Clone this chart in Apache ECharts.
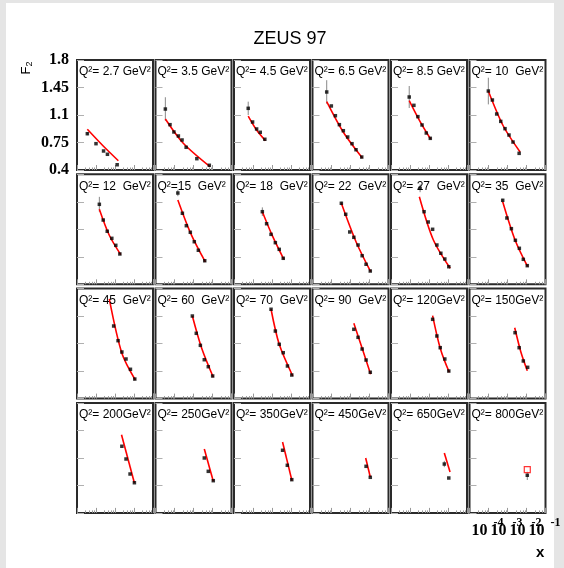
<!DOCTYPE html>
<html><head><meta charset="utf-8">
<script src="https://cdn.jsdelivr.net/npm/echarts@6/dist/echarts.min.js"></script>
<style>
html,body{margin:0;padding:0;background:#e5e5e5;width:564px;height:568px;overflow:hidden}
#bg{position:absolute;left:6px;top:3px;width:548px;height:565px;background:#fff}
#chart{position:absolute;left:0;top:0;width:564px;height:568px}
</style></head>
<body><div id="bg"></div><div id="chart"></div>
<script>
// ---- data ----
const PANEL_LABELS = ['Q²= 2.7 GeV²','Q²= 3.5 GeV²','Q²= 4.5 GeV²','Q²= 6.5 GeV²','Q²= 8.5 GeV²','Q²= 10  GeV²',
  'Q²= 12  GeV²','Q²=15  GeV²','Q²= 18  GeV²','Q²= 22  GeV²','Q²= 27  GeV²','Q²= 35  GeV²',
  'Q²= 45  GeV²','Q²= 60  GeV²','Q²= 70  GeV²','Q²= 90  GeV²','Q²= 120GeV²','Q²= 150GeV²',
  'Q²= 200GeV²','Q²= 250GeV²','Q²= 350GeV²','Q²= 450GeV²','Q²= 650GeV²','Q²= 800GeV²'];

const PTS_X = [
  [3.5e-5, 1.0e-4, 2.5e-4, 4.0e-4, 1.3e-3],
  [3.3e-5, 5.8e-5, 9.3e-5, 1.6e-4, 2.5e-4, 4.1e-4, 1.5e-3, 6.8e-3],
  [5.6e-5, 9.5e-5, 1.55e-4, 2.4e-4, 4.2e-4],
  [5.6e-5, 9.8e-5, 1.6e-4, 2.6e-4, 4.2e-4, 7.1e-4, 1.2e-3, 1.95e-3, 3.9e-3],
  [9.1e-5, 1.6e-4, 2.6e-4, 4.3e-4, 7.2e-4, 1.17e-3],
  [9.8e-5, 1.6e-4, 2.7e-4, 4.4e-4, 7.4e-4, 1.2e-3, 1.95e-3, 4.1e-3],
  [1.5e-4, 2.4e-4, 3.9e-4, 6.8e-4, 1.1e-3, 1.8e-3],
  [1.5e-4, 2.6e-4, 4.2e-4, 6.8e-4, 1.1e-3, 1.8e-3, 3.9e-3],
  [3.1e-4, 5.2e-4, 8.9e-4, 1.5e-3, 2.4e-3, 3.9e-3],
  [3.3e-4, 5.6e-4, 9.1e-4, 1.5e-3, 2.5e-3, 4.1e-3, 6.6e-3, 1.1e-2],
  [3.4e-4, 5.5e-4, 9.1e-4, 1.55e-3, 2.6e-3, 4.2e-3, 6.8e-3, 1.1e-2],
  [5.6e-4, 9.3e-4, 1.6e-3, 2.6e-3, 4.2e-3, 6.8e-3, 1.1e-2],
  [8.5e-4, 1.45e-3, 2.3e-3, 3.8e-3, 6.5e-3, 1.1e-2],
  [8.7e-4, 1.4e-3, 2.3e-3, 3.7e-3, 6.0e-3, 1.02e-2],
  [8.9e-4, 1.5e-3, 2.4e-3, 3.9e-3, 6.5e-3, 1.1e-2],
  [1.5e-3, 2.5e-3, 4.1e-3, 6.6e-3, 1.1e-2],
  [1.55e-3, 2.6e-3, 3.9e-3, 6.8e-3, 1.1e-2],
  [2.5e-3, 4.1e-3, 6.8e-3, 1.15e-2],
  [2.3e-3, 3.8e-3, 6.2e-3, 1.05e-2],
  [3.7e-3, 6.0e-3, 1.1e-2],
  [3.6e-3, 6.4e-3, 1.1e-2],
  [6.6e-3, 1.1e-2],
  [6.4e-3, 1.1e-2],
  [1.1e-2]
];
const PTS_F2 = [
  [0.862, 0.735, 0.642, 0.600, 0.467],
  [1.176, 0.977, 0.884, 0.833, 0.782, 0.689, 0.544, 0.460],
  [1.185, 1.011, 0.922, 0.880, 0.791],
  [1.393, 1.215, 1.091, 0.977, 0.900, 0.820, 0.735, 0.658, 0.565],
  [1.329, 1.223, 1.079, 0.973, 0.871, 0.803],
  [1.405, 1.291, 1.113, 1.019, 0.926, 0.845, 0.756, 0.612],
  [1.418, 1.218, 1.075, 0.985, 0.896, 0.786],
  [1.562, 1.304, 1.146, 1.062, 0.942, 0.833, 0.700],
  [1.324, 1.171, 1.036, 0.930, 0.845, 0.731],
  [1.431, 1.291, 1.066, 0.998, 0.900, 0.764, 0.655, 0.569],
  [1.622, 1.324, 1.193, 1.100, 0.900, 0.795, 0.722, 0.624],
  [1.469, 1.244, 1.108, 0.960, 0.858, 0.718, 0.637],
  [1.324, 1.137, 0.993, 0.904, 0.773, 0.649],
  [1.451, 1.231, 1.078, 0.895, 0.806, 0.688],
  [1.537, 1.260, 1.091, 0.984, 0.815, 0.700],
  [1.282, 1.180, 1.031, 0.891, 0.735],
  [1.409, 1.197, 1.048, 0.904, 0.751],
  [1.239, 1.048, 0.879, 0.798],
  [1.248, 1.086, 0.895, 0.784],
  [1.099, 0.929, 0.810],
  [1.197, 1.006, 0.823],
  [0.993, 0.853],
  [1.022, 0.844],
  [0.879]
];
// error on the first (lowest-x) point of each panel
const ERR_FIRST = [0.02, 0.15, 0.085, 0.15, 0.14, 0.17, 0.095, 0.04, 0.055, 0.02, 0.05, 0.02,
  0, 0, 0, 0, 0, 0, 0, 0, 0, 0, 0.04, 0.06];

const FIT_X = [
  [3.5e-5, 2.4e-4, 1.5e-3],
  [3.3e-5, 2.9e-4, 7.4e-3],
  [5.6e-5, 1.55e-4, 4.5e-4],
  [5.6e-5, 4.2e-4, 4.2e-3],
  [9.1e-5, 3.4e-4, 1.23e-3],
  [9.8e-5, 6.0e-4, 4.6e-3],
  [1.5e-4, 5.0e-4, 2.0e-3],
  [1.5e-4, 7.1e-4, 4.2e-3],
  [3.1e-4, 1.1e-3, 4.2e-3],
  [3.3e-4, 1.95e-3, 1.15e-2],
  [3.1e-4, 1.7e-3, 1.3e-2],
  [5.6e-4, 2.5e-3, 1.15e-2],
  [5.0e-4, 2.3e-3, 1.17e-2],
  [8.7e-4, 2.7e-3, 1.1e-2],
  [8.9e-4, 2.4e-3, 1.23e-2],
  [1.5e-3, 4.1e-3, 1.15e-2],
  [1.55e-3, 3.9e-3, 1.17e-2],
  [2.4e-3, 5.1e-3, 1.1e-2],
  [2.2e-3, 1.05e-2],
  [3.7e-3, 1.1e-2],
  [3.6e-3, 1.12e-2],
  [6.3e-3, 1.1e-2],
  [6.4e-3, 1.28e-2],
  []
];
const FIT_F2 = [
  [0.918, 0.705, 0.518],
  [1.049, 0.740, 0.442],
  [1.087, 0.909, 0.773],
  [1.269, 0.880, 0.553],
  [1.282, 1.015, 0.791],
  [1.405, 0.960, 0.629],
  [1.355, 1.024, 0.777],
  [1.473, 1.049, 0.684],
  [1.324, 1.006, 0.718],
  [1.431, 0.942, 0.560],
  [1.515, 0.964, 0.604],
  [1.451, 0.964, 0.624],
  [1.668, 0.977, 0.637],
  [1.451, 1.040, 0.671],
  [1.537, 1.091, 0.688],
  [1.358, 1.040, 0.709],
  [1.455, 1.040, 0.735],
  [1.302, 0.990, 0.755],
  [1.395, 0.781],
  [1.213, 0.802],
  [1.302, 0.810],
  [1.099, 0.857],
  [1.162, 0.921],
  []
];
// open red square in the Q2=800 panel
const OPEN_X = [1.1e-2];
const OPEN_F2 = [0.95];

const Y_MIN = 0.4, Y_MAX = 1.8, Y_STEP = 0.35;
const X_MIN = 1e-5, X_MAX = 1e-1;
const X_TICK_EXP = [-4, -3, -2, -1];

// ---- layout ----
const L0 = 77, DX = 78.5, T0 = 60, DY = 114.3, GW = 76, GH = 110;

const grids = [], xAxes = [], yAxes = [], series = [];
const titles = [{
  text: 'ZEUS 97', left: 290, top: 30, textAlign: 'center', padding: 0,
  textStyle: {fontFamily: 'Liberation Sans', fontSize: 18, fontWeight: 'normal', color: '#000'}
}, {
  text: 'x', left: 536, top: 545, padding: 0,
  textStyle: {fontFamily: 'Liberation Sans', fontSize: 15, fontWeight: 'bold', color: '#000'}
}];

for (let i = 0; i < 24; i++) {
  const r = Math.floor(i / 6), c = i % 6;
  const gl = L0 + DX * c, gt = T0 + DY * r;
  grids.push({left: gl, top: gt, width: GW, height: GH, show: true,
    backgroundColor: '#fff', borderColor: '#2a2a2a', borderWidth: 2});
  titles.push({text: PANEL_LABELS[i], left: gl + 2, top: gt + 6, padding: 0,
    textStyle: {fontFamily: 'Liberation Sans', fontSize: 12, fontWeight: 'normal', color: '#000'}});
  xAxes.push({
    type: 'log', logBase: 10, gridIndex: i, min: X_MIN, max: X_MAX,
    axisLine: {show: false},
    axisTick: {show: true, inside: true, length: 5, lineStyle: {color: '#999', width: 1}},
    minorTick: {show: true, splitNumber: 5, length: 2.5, lineStyle: {color: '#999', width: 1}},
    splitLine: {show: false}, minorSplitLine: {show: false},
    axisLabel: i === 23 ? {
      show: true, margin: 4, showMinLabel: false,
      formatter: function (v) {
        const e = Math.round(Math.log10(v));
        if (X_TICK_EXP.indexOf(e) < 0) return '';
        return '{b|10}{e|' + e + '}';
      },
      rich: {
        b: {fontFamily: 'Liberation Serif', fontWeight: 'bold', fontSize: 16, color: '#000', verticalAlign: 'bottom'},
        e: {fontFamily: 'Liberation Serif', fontWeight: 'bold', fontSize: 12, color: '#000', padding: [0, 2, 10, 6], verticalAlign: 'top'}
      }
    } : {show: false}
  });
  yAxes.push({
    type: 'value', gridIndex: i, min: Y_MIN, max: Y_MAX, interval: Y_STEP,
    axisLine: {show: false},
    axisTick: {show: true, inside: true, length: 7, lineStyle: {color: '#b0b0b0', width: 1}},
    splitLine: {show: false},
    axisLabel: i === 0 ? {
      show: true, margin: 8, color: '#000',
      fontFamily: 'Liberation Serif', fontWeight: 'bold', fontSize: 16,
      formatter: v => String(Math.round(v * 100) / 100)
    } : {show: false}
  });

  if (ERR_FIRST[i] > 0) {
    const x0 = PTS_X[i][0], y0 = PTS_F2[i][0], e = ERR_FIRST[i];
    series.push({
      type: 'custom', xAxisIndex: i, yAxisIndex: i, silent: true, z: 2,
      data: [[x0, y0 - e, y0 + e]],
      encode: {x: 0, y: [1, 2]},
      renderItem: function (params, api) {
        const a = api.coord([api.value(0), api.value(1)]);
        const b = api.coord([api.value(0), api.value(2)]);
        return {type: 'line', shape: {x1: a[0], y1: a[1], x2: b[0], y2: b[1]},
          style: {stroke: '#888', lineWidth: 1}};
      }
    });
  }
  if (FIT_X[i].length) {
    series.push({
      type: 'line', xAxisIndex: i, yAxisIndex: i, silent: true, z: 3,
      data: FIT_X[i].map((x, k) => [x, FIT_F2[i][k]]),
      smooth: 0.3, symbol: 'none', showSymbol: false,
      lineStyle: {color: '#f00', width: 1.6}
    });
  }
  series.push({
    type: 'scatter', xAxisIndex: i, yAxisIndex: i, silent: true, z: 4,
    data: PTS_X[i].map((x, k) => [x, PTS_F2[i][k]]),
    symbol: 'rect', symbolSize: 3.5, itemStyle: {color: '#000'}
  });
  if (i === 23) {
    series.push({
      type: 'scatter', xAxisIndex: i, yAxisIndex: i, silent: true, z: 5,
      data: OPEN_X.map((x, k) => [x, OPEN_F2[k]]),
      symbol: 'rect', symbolSize: 6,
      itemStyle: {color: '#fff', borderColor: '#f00', borderWidth: 1.2}
    });
  }
}

const chart = echarts.init(document.getElementById('chart'), null, {renderer: 'canvas'});
chart.setOption({
  animation: false,
  backgroundColor: 'transparent',
  title: titles,
  grid: grids, xAxis: xAxes, yAxis: yAxes, series: series,
  graphic: [{
    type: 'text', x: 26, y: 68, rotation: Math.PI / 2,
    style: {
      text: '{a|F}{s|2}', align: 'center', verticalAlign: 'middle', fill: '#000',
      rich: {
        a: {fontFamily: 'Liberation Sans', fontSize: 13, fill: '#000'},
        s: {fontFamily: 'Liberation Sans', fontSize: 9, fill: '#000', padding: [7, 0, 0, 0]}
      }
    }
  }]
});
</script></body></html>
